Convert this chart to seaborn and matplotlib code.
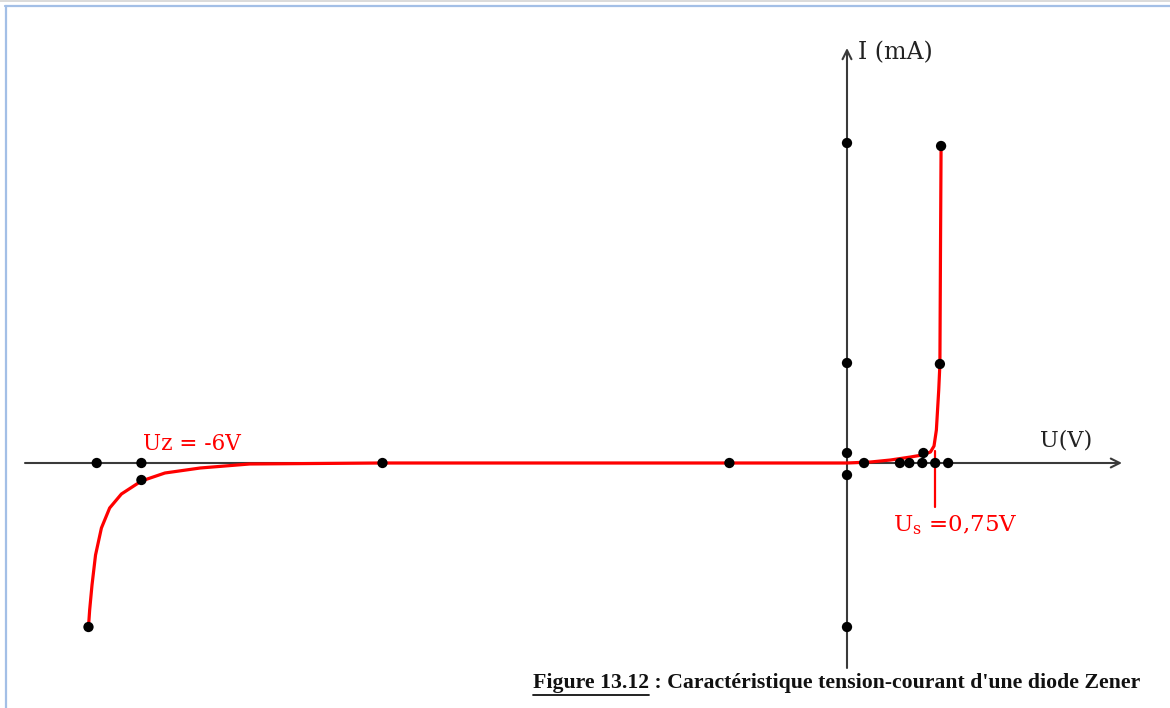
import matplotlib
matplotlib.use("Agg")
import matplotlib.pyplot as plt
import seaborn as sns
import numpy as np
from matplotlib.lines import Line2D

sns.set_style("white")
plt.rcParams["font.family"] = ["DejaVu Serif", "DejaVu Sans"]
plt.rcParams["mathtext.fontset"] = "dejavuserif"

# Measured points (U in volts, I in mA)
point_u = [-6.38, -6.0, -3.95, -1.0, 0.145, 0.45, 0.53, 0.64, 0.75, 0.86,
           -6.0, -6.45,
           0.0, 0.0, 0.0, 0.0, 0.0,
           0.80, 0.79, 0.65]
point_i = [0.0, 0.0, 0.0, 0.0, 0.0, 0.0, 0.0, 0.0, 0.0, 0.0,
           -0.85, -8.2,
           16.0, 5.0, 0.5, -0.6, -8.2,
           15.85, 4.95, 0.5]

# Characteristic curve: reverse (Zener) branch then forward branch
curve_u = [-6.45, -6.44, -6.42, -6.39, -6.34, -6.27, -6.17, -6.0, -5.8, -5.5,
           -5.08, -3.96, -1.0, 0.0, 0.2, 0.37, 0.54, 0.64, 0.71, 0.74, 0.76,
           0.78, 0.79, 0.795, 0.80]
curve_i = [-8.2, -7.35, -6.1, -4.6, -3.25, -2.25, -1.55, -0.9, -0.5, -0.25,
           -0.05, 0.0, 0.0, 0.0, 0.05, 0.15, 0.3, 0.4, 0.55, 0.85, 1.65,
           3.65, 4.95, 10.65, 15.85]

u_zener = -6.0
u_seuil = 0.75

W, H, DPI = 1170, 708, 100
fig = plt.figure(figsize=(W / DPI, H / DPI), dpi=DPI)
ax = fig.add_axes([0, 0, 1, 1])
px_per_v, px_per_ma = 117.6, 20.0
ox, oy = 847.0, 463.0
ax.set_xlim((0 - ox) / px_per_v, (W - ox) / px_per_v)
ax.set_ylim((oy - H) / px_per_ma, oy / px_per_ma)
ax.axis("off")

axis_col = "#3a3a3a"
# Axes with open arrow heads
ax.annotate("", xy=((1122 - ox) / px_per_v, 0), xytext=((25 - ox) / px_per_v, 0),
            arrowprops=dict(arrowstyle="->", color=axis_col, lw=1.5,
                            mutation_scale=16, shrinkA=0, shrinkB=0), zorder=1)
ax.annotate("", xy=(0, (oy - 48) / px_per_ma), xytext=(0, (oy - 668) / px_per_ma),
            arrowprops=dict(arrowstyle="->", color=axis_col, lw=1.5,
                            mutation_scale=16, shrinkA=0, shrinkB=0), zorder=1)

# Threshold voltage marker
ax.plot([u_seuil, u_seuil], [0.6, -2.2], color="red", lw=1.6, zorder=2)

sns.lineplot(x=curve_u, y=curve_i, sort=False, estimator=None, color="red",
             lw=2.3, ax=ax, zorder=3)
sns.scatterplot(x=point_u, y=point_i, color="black", s=55, edgecolor="none",
                ax=ax, zorder=4)

ax.text(0.09, 20.5, "I (mA)", fontsize=17, color="#222222", ha="left", va="center")
ax.text(1.64, 1.15, "U(V)", fontsize=16, color="#222222", ha="left", va="center")
ax.text(u_zener + 0.43, 0.95, "Uz = -6V", fontsize=15.5, color="red",
        ha="center", va="center")
ax.text(u_seuil + 0.17, -3.1, r"U$_\mathregular{s}$ =0,75V", fontsize=16.5,
        color="red", ha="center", va="center")

# Caption with underlined figure number
cap_y = 1 - 683 / H
cap_size = 15.7
t1 = fig.text(533 / W, cap_y, "Figure 13.12", fontsize=cap_size, fontweight="bold",
              family="Liberation Serif", color="#111111", ha="left", va="center")
fig.canvas.draw()
r = fig.canvas.get_renderer()
bb = t1.get_window_extent(r)
fig.text(bb.x1 / W, cap_y, " : Caractéristique tension-courant d'une diode Zener",
         fontsize=cap_size, fontweight="bold", family="Liberation Serif",
         color="#111111", ha="left", va="center")
fig.add_artist(Line2D([bb.x0 / W, bb.x1 / W], [1 - 695 / H, 1 - 695 / H],
                      color="#111111", lw=1.3, transform=fig.transFigure))

# Page frame
fig.add_artist(Line2D([0, 1], [1 - 0.5 / H, 1 - 0.5 / H], color="#d4d4d4", lw=1.2,
                      transform=fig.transFigure))
fig.add_artist(Line2D([5 / W, 1], [1 - 6 / H, 1 - 6 / H], color="#a3bfe6", lw=1.6,
                      transform=fig.transFigure))
fig.add_artist(Line2D([6 / W, 6 / W], [0, 1 - 6 / H], color="#a3bfe6", lw=1.6,
                      transform=fig.transFigure))

fig.savefig("out.png", dpi=DPI)
